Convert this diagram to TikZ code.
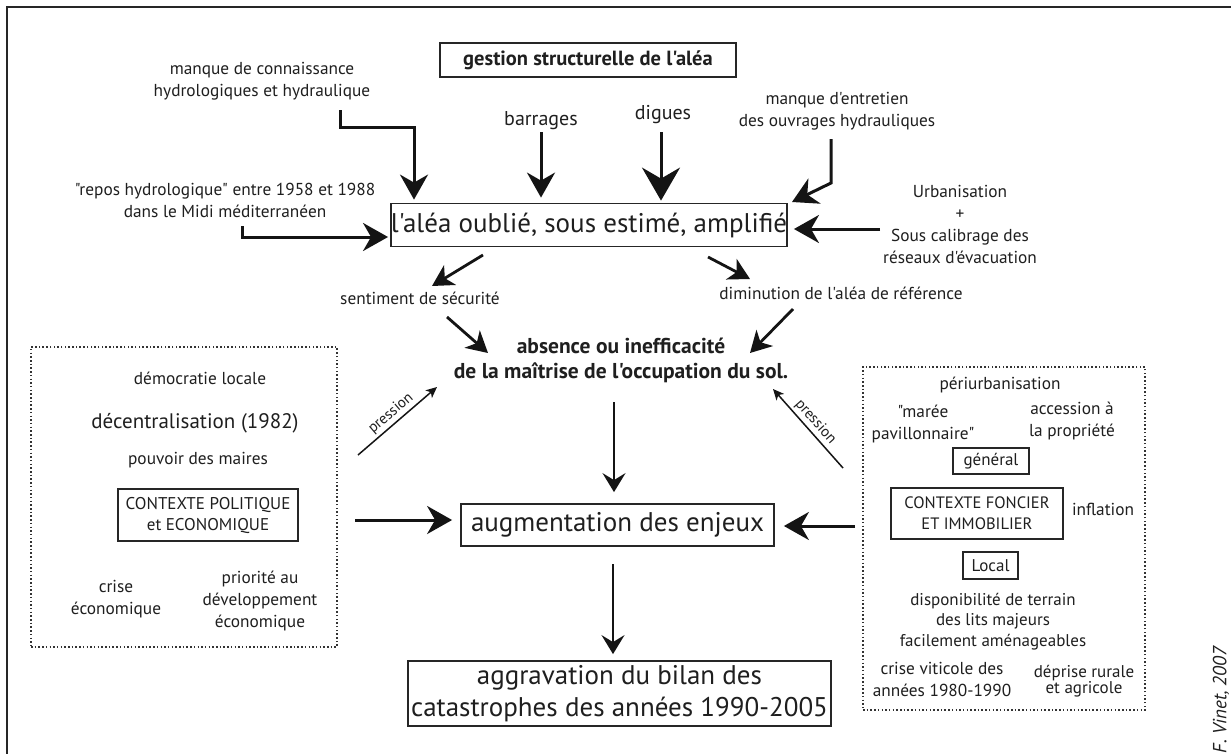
\documentclass[tikz,border=0pt]{standalone}
\usepackage{fontspec}
\setmainfont{PT Sans}[Ligatures=TeXOff]
\usetikzlibrary{arrows.meta,calc}
\begin{document}
\begin{tikzpicture}[x=1pt,y=-1pt,
  lbl/.style={align=center, inner sep=0pt, text=black!88, font=\fontsize{17.3}{22}\selectfont},
  box/.style={draw=black!85, line width=1.8pt, inner sep=0pt, align=center, text=black!88},
  dotbox/.style={draw=black!80, line width=1.5pt, dash pattern=on 1.5pt off 2.2pt, inner sep=0pt},
  bigarrow/.style={line width=3pt, draw=black!92, -{Stealth[length=25pt,width=28pt,inset=8pt]}},
  hugearrow/.style={line width=3pt, draw=black!92, -{Stealth[length=33pt,width=38pt,inset=11pt]}},
  medarrow/.style={line width=2.8pt, draw=black!92, -{Stealth[length=21pt,width=23pt,inset=6pt]}},
  thinarrow/.style={line width=2.2pt, draw=black!92, -{Stealth[length=19pt,width=23pt,inset=7pt]}},
  presarrow/.style={line width=1.5pt, draw=black!92, -{Stealth[length=11pt,width=10pt,inset=3pt]}},
  preslbl/.style={inner sep=2.5pt, font=\fontsize{15}{17}\selectfont, text=black!88},
  bigfont/.style={font=\fontsize{27}{32}\selectfont},
  capfont/.style={font=\fontsize{16.5}{21}\selectfont}
]
\useasboundingbox (0,0) rectangle (1231,753);
\fill[white] (0,0) rectangle (1231,753);
\draw[line width=2pt, black!85] (7,760) -- (7,7) -- (1240,7);

% ---- top part
\node[box, font=\bfseries\fontsize{20.5}{24}\selectfont, minimum width=296pt, minimum height=34pt] (gest) at (588,60) {gestion structurelle de l'aléa};
\node[lbl] (mc) at (262,81) {manque de connaissance\\hydrologiques et hydraulique};
\node[lbl] (rep) at (225,200.5) {"repos hydrologique" entre 1958 et 1988\\dans le Midi méditerranéen};
\node[lbl, font=\fontsize{20}{24}\selectfont] (barr) at (541,121) {barrages};
\node[lbl, font=\fontsize{20}{24}\selectfont] (dig) at (663,115) {digues};
\node[lbl] (me) at (837,111) {manque d'entretien\\des ouvrages hydrauliques};
\node[lbl] (urb) at (960,224) {Urbanisation\\+\\Sous calibrage des\\réseaux d'évacuation};
\node[box, bigfont, minimum width=396pt, minimum height=43pt] (alea) at (589,225) {l'aléa oublié, sous estimé, amplifié};
\node[lbl] (sent) at (420,298) {sentiment de sécurité};
\node[lbl] (dim) at (841,293) {diminution de l'aléa de référence};
\node[lbl, font=\bfseries\fontsize{21.5}{25}\selectfont] (abs) at (621,360.5) {absence ou inefficacité\\de la maîtrise de l'occupation du sol.};
\node[box, bigfont, minimum width=313pt, minimum height=42pt] (aug) at (617.5,525) {augmentation des enjeux};
\node[box, bigfont, minimum width=423pt, minimum height=65pt] (agg) at (619.5,693.5) {aggravation du bilan des\\catastrophes des années 1990-2005};

% ---- left box
\node[dotbox, minimum width=306pt, minimum height=300pt] (pol) at (184,497) {};
\node[lbl] (demo) at (200,378) {démocratie locale};
\node[lbl, font=\fontsize{21}{24}\selectfont] (dec) at (195,423) {décentralisation (1982)};
\node[lbl] (pouv) at (198,460) {pouvoir des maires};
\node[box, font=\fontsize{17}{21}\selectfont, minimum width=180pt, minimum height=52pt] (cpol) at (208,515) {CONTEXTE POLITIQUE\\et ECONOMIQUE};
\node[lbl] (crise) at (116,599) {crise\\économique};
\node[lbl] (prio) at (260,600.5) {priorité au\\développement\\économique};

% ---- right box
\node[dotbox, minimum width=282pt, minimum height=343pt] (fon) at (1004,538.5) {};
\node[lbl] (peri) at (1000,385) {périurbanisation};
\node[lbl] (maree) at (923,424) {"marée\\pavillonnaire"};
\node[lbl] (acc) at (1072,421) {accession à\\la propriété};
\node[box, font=\fontsize{17}{22}\selectfont, minimum width=76pt, minimum height=26pt] (gen) at (991,461) {général};
\node[box, capfont, minimum width=172pt, minimum height=51pt] (cfon) at (977,513.5) {CONTEXTE FONCIER\\ET IMMOBILIER};
\node[lbl] (infl) at (1103,509) {inflation};
\node[box, font=\fontsize{17}{22}\selectfont, minimum width=55pt, minimum height=27pt] (loc) at (990.5,565.5) {Local};
\node[lbl, font=\fontsize{17}{20.5}\selectfont] (dispo) at (993,621.5) {disponibilité de terrain\\des lits majeurs\\facilement aménageables};
\node[lbl] (vit) at (942,679) {crise viticole des\\années 1980-1990};
\node[lbl, font=\fontsize{17}{14.5}\selectfont] (dep) at (1084,681) {déprise rurale\\et agricole};

\node[font=\itshape\fontsize{19}{22}\selectfont, rotate=90, inner sep=0pt, text=black!88] (fv) at (1221,700) {F. Vinet, 2007};

% ---- connectors
\coordinate (mc1) at (340,110); \coordinate (mc2) at (414,127);
\draw[bigarrow, shorten >=3pt] (mc1) -- (mc1 |- mc2) -- (mc2) -- (mc2 |- alea.north);

\coordinate (b1) at (541,132);
\draw[bigarrow, shorten >=5pt] (b1) -- (b1 |- alea.north);

\coordinate (d1) at (661,132);
\draw[hugearrow, shorten >=2pt] (d1) -- (d1 |- alea.north);

\coordinate (me1) at (831,139); \coordinate (me2) at (831,183); \coordinate (me3) at (792,202);
\draw[bigarrow] (me1) -- (me2) -- (me3);

\coordinate (u1) at (880,229);
\draw[bigarrow, shorten >=6pt] (u1) -- (u1 -| alea.east);

\coordinate (r1) at (242,226); \coordinate (r2) at (242,237);
\draw[bigarrow, shorten >=2pt] (r1) -- (r2) -- (r2 -| alea.west);

\coordinate (s1) at (483,255); \coordinate (s2) at (432,286);
\draw[medarrow] (s1) -- (s2);
\coordinate (dm1) at (708,257); \coordinate (dm2) at (750,279);
\draw[medarrow] (dm1) -- (dm2);

\coordinate (sa1) at (447,317); \coordinate (sa2) at (488,353);
\draw[medarrow] (sa1) -- (sa2);
\coordinate (da1) at (793,309); \coordinate (da2) at (750,353);
\draw[medarrow] (da1) -- (da2);

\coordinate (ab1) at (614,402);
\draw[thinarrow, shorten >=11pt] (ab1) -- (ab1 |- aug.north);
\coordinate (ag1) at (613,564);
\draw[thinarrow, shorten >=6pt] (ag1) -- (ag1 |- agg.north);

\coordinate (l1) at (355,520);
\draw[bigarrow, shorten >=8pt] (l1) -- (l1 -| aug.west);
\coordinate (rr1) at (855,526);
\draw[bigarrow, shorten >=9pt] (rr1) -- (rr1 -| aug.east);

\coordinate (p1) at (358,455); \coordinate (p2) at (437,387);
\draw[presarrow] (p1) -- (p2) node[midway, sloped, above, preslbl] {pression};
\coordinate (q1) at (843,468); \coordinate (q2) at (773,389);
\draw[presarrow] (q1) -- (q2) node[midway, sloped, above, preslbl] {pression};
\end{tikzpicture}
\end{document}
